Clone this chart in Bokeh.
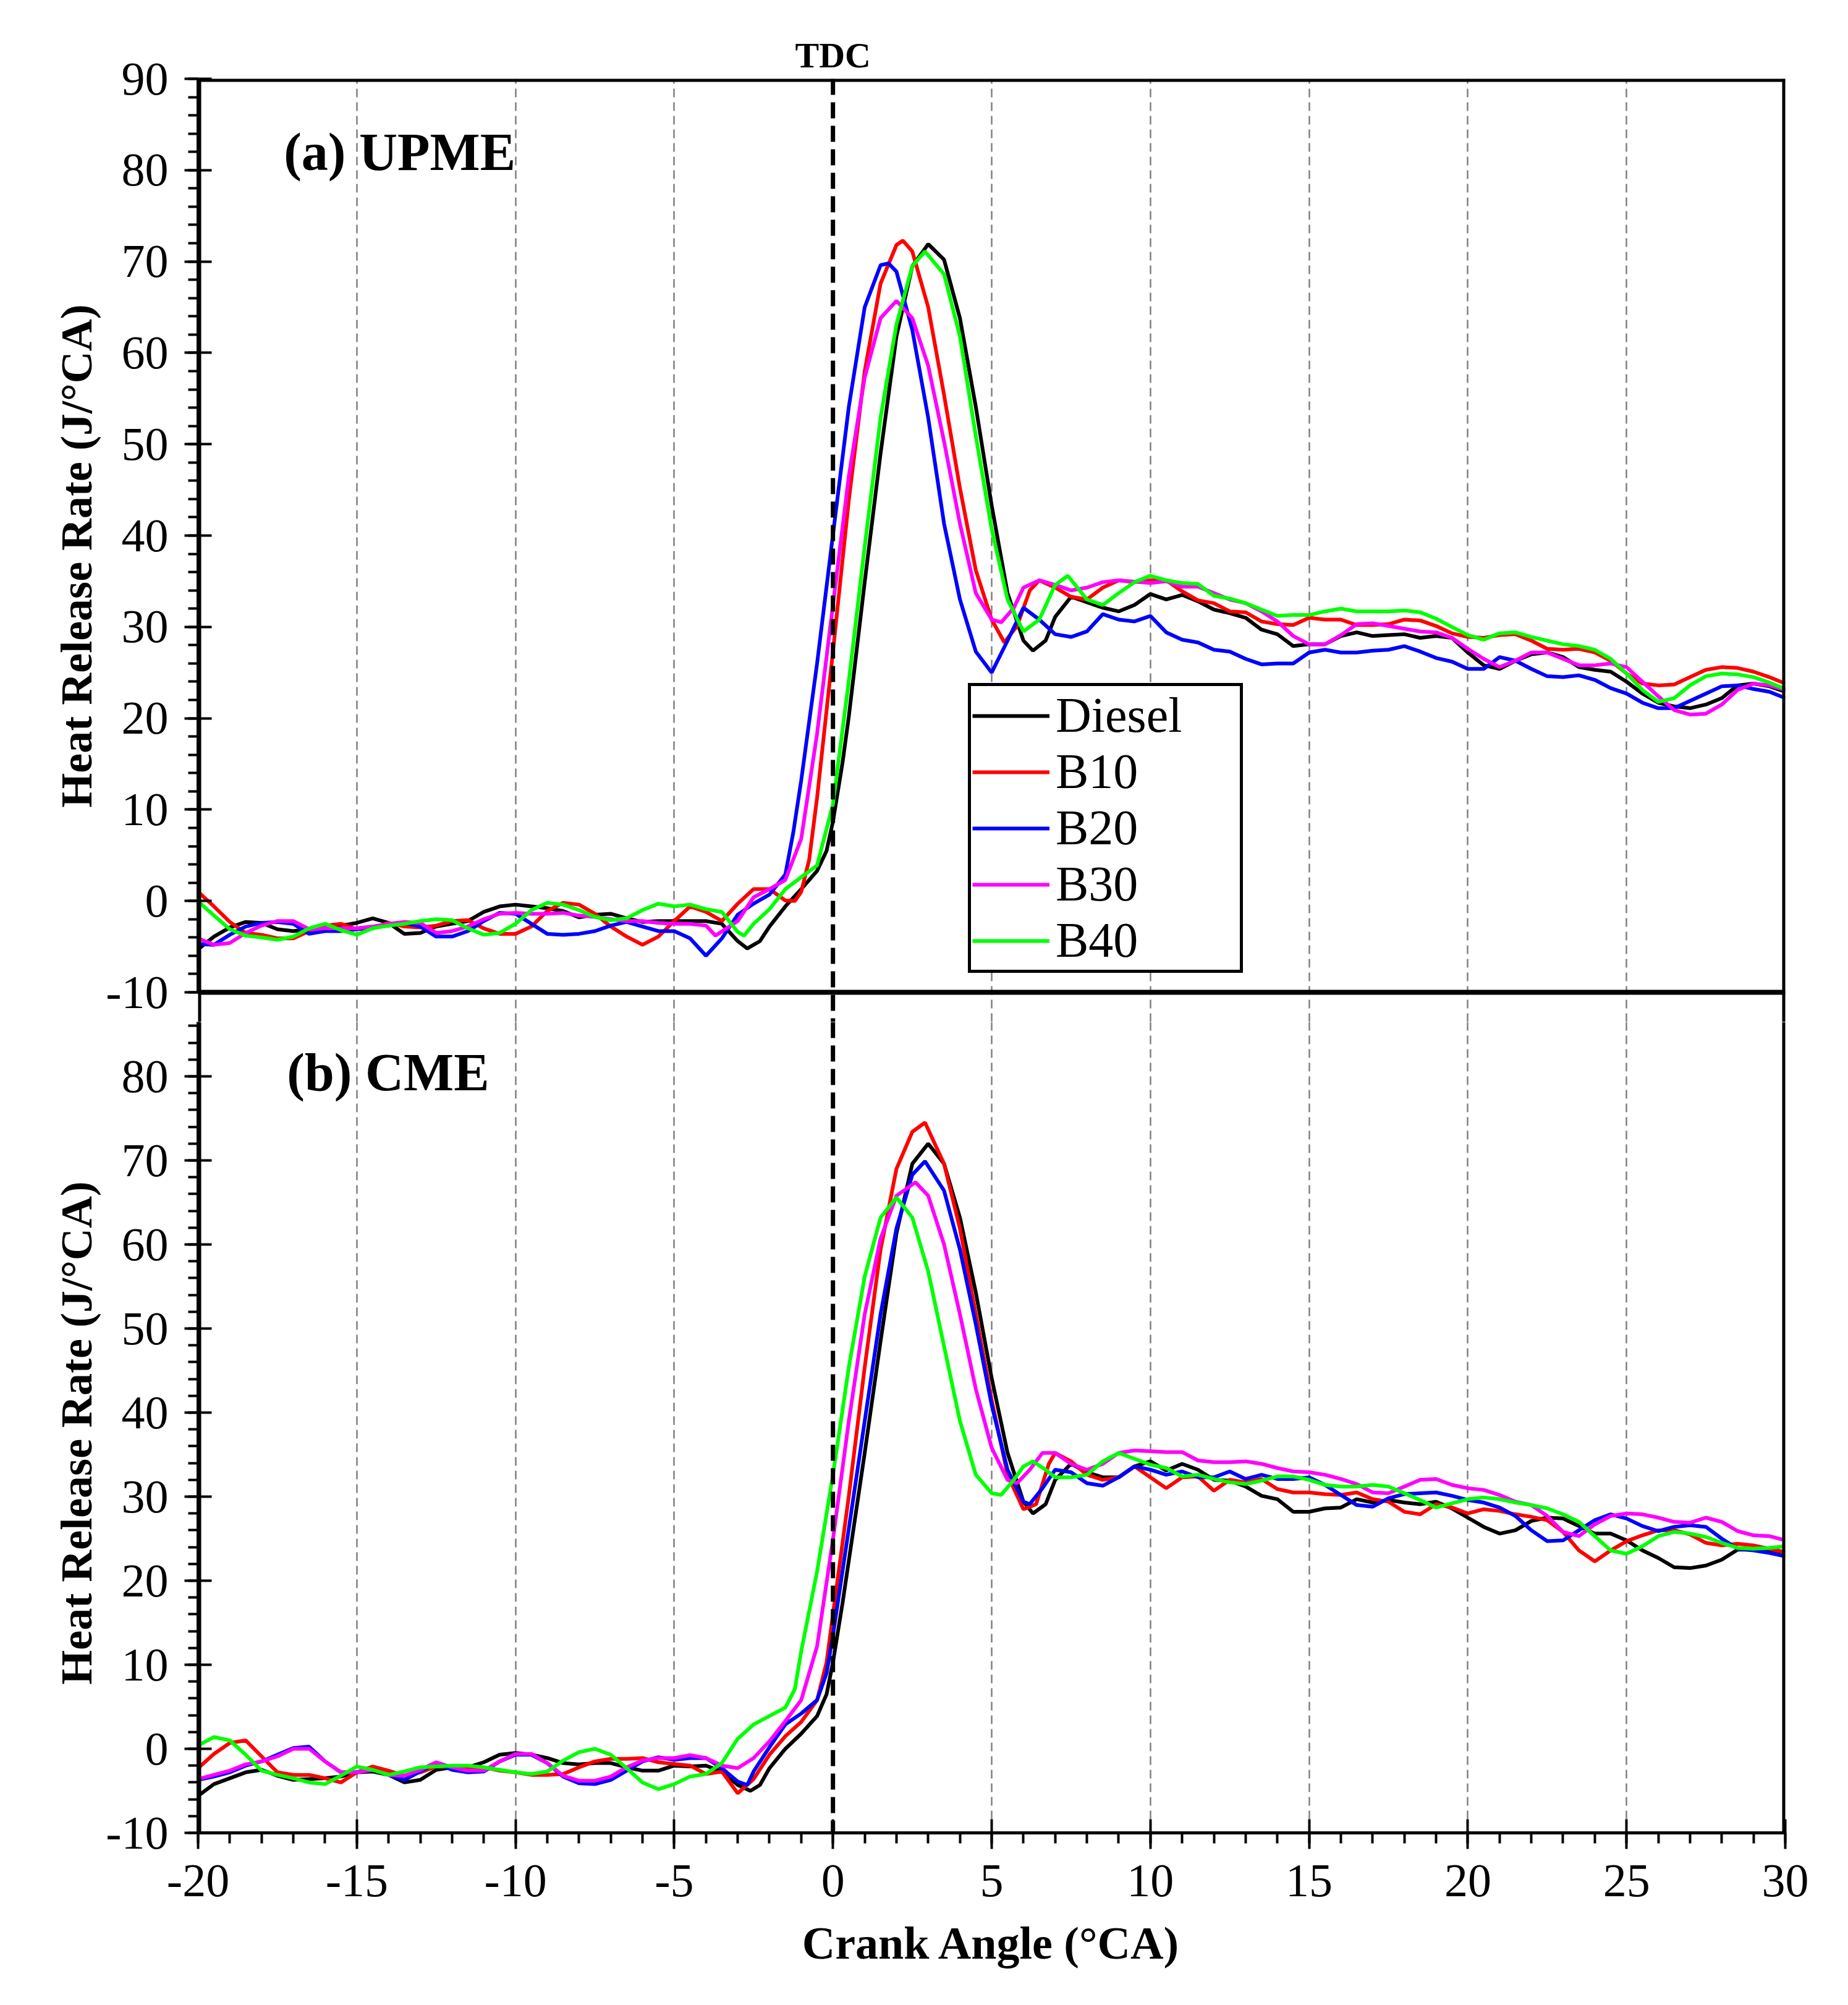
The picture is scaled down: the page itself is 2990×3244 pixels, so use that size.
from bokeh.plotting import figure
from bokeh.models import (Range1d, FixedTicker, Legend, LegendItem, Label, Span, Grid,
                          LinearAxis, CustomJSTickFormatter)
from bokeh.layouts import column
from bokeh.embed import file_html
from bokeh.resources import INLINE

FONT = "Liberation Serif"

# ---------------- shared x positions ----------------
x_low = [-20, -19.5, -19, -18.5, -18, -17.5, -17, -16.5, -16, -15.5, -15, -14.5, -14, -13.5, -13,
         -12.5, -12, -11.5, -11, -10.5, -10, -9.5, -9, -8.5, -8, -7.5, -7, -6.5, -6, -5.5, -5]
x_tail = [10.5, 11, 11.5, 12, 12.5, 13, 13.5, 14, 14.5, 15, 15.5, 16, 16.5, 17, 17.5, 18, 18.5, 19, 19.5, 20,
          20.5, 21, 21.5, 22, 22.5, 23, 23.5, 24, 24.5, 25, 25.5, 26, 26.5, 27, 27.5, 28, 28.5, 29, 29.5, 30]

series_names = ["Diesel", "B10", "B20", "B30", "B40"]
series_colors = ["#000000", "#FF0000", "#0000FF", "#FF00FF", "#00FF00"]

# ---------------- (a) UPME ----------------
upme_diesel_low = [-5.3, -3.9, -2.9, -2.3, -2.4, -3.1, -3.3, -3.1, -2.9, -2.7, -2.4, -1.9, -2.4, -3.6, -3.5,
                   -2.8, -2.5, -2.2, -1.2, -0.6, -0.4, -0.6, -0.8, -1.1, -1.8, -1.5, -1.4, -1.9, -2.3, -2.2, -2.2]
upme_diesel_xmid = [-4.5, -4, -3.5, -3, -2.7, -2.3, -2, -1.5, -1, -0.5, -0.2, 0, 0.3, 0.5, 1, 1.5, 2, 2.5, 3, 3.5,
                    4, 4.5, 5, 5.5, 6, 6.3, 6.7, 7, 7.5, 8, 8.5, 9, 9.5, 10]
upme_diesel_mid = [-2.2, -2.2, -2.5, -4.4, -5.2, -4.4, -2.8, -0.6, 1.3, 3.3, 5.5, 8.7, 15.1, 20.2, 34.9, 49.0, 61.8,
                   69.5, 71.9, 70.2, 63.8, 54.1, 43.3, 33.7, 28.5, 27.4, 28.5, 31.1, 33.3, 32.7, 32.1, 31.7, 32.4, 33.6]
upme_diesel_tail = [33.0, 33.5, 32.8, 31.9, 31.5, 31.0, 29.7, 29.2, 27.9, 28.1, 28.1, 29.0, 29.4, 29.0, 29.1, 29.2,
                    28.8, 29.0, 28.8, 27.2, 25.8, 25.4, 26.3, 27.0, 27.2, 26.7, 25.6, 25.3, 25.1, 24.0, 22.7, 21.7,
                    21.3, 21.1, 21.5, 22.2, 23.6, 23.8, 23.5, 22.9]

upme_b10_low = [1.0, -0.6, -2.3, -3.5, -3.7, -4.1, -4.1, -3.3, -2.7, -2.5, -3.1, -3.0, -2.4, -2.8, -2.9,
                -2.7, -2.2, -2.1, -3.0, -3.6, -3.6, -2.8, -1.1, -0.2, -0.4, -1.4, -2.8, -3.9, -4.8, -3.9, -2.2]
upme_b10_xmid = [-4.5, -4, -3.5, -3, -2.5, -2, -1.5, -1.2, -1, -0.75, -0.5, 0, 0.5, 1, 1.5, 2, 2.2, 2.5, 3, 3.5, 4,
                 4.5, 5, 5.4, 5.8, 6.2, 6.5, 7, 7.5, 8, 8.5, 9, 9.5, 10]
upme_b10_mid = [-0.6, -1.2, -2.2, -0.3, 1.3, 1.3, 0.05, 0.0, 1.0, 4.5, 11.3, 27.3, 43.9, 58.0, 67.6, 71.8, 72.3,
                71.1, 65.0, 55.4, 45.2, 36.2, 30.8, 28.3, 30.1, 34.0, 35.1, 34.3, 33.3, 33.0, 34.3, 35.1, 34.9, 35.1]
upme_b10_tail = [35.1, 33.9, 32.9, 32.6, 31.7, 31.6, 30.6, 30.3, 30.2, 31.0, 30.8, 30.8, 30.2, 30.2, 30.3, 30.8,
                 30.7, 30.1, 29.3, 28.9, 28.8, 29.1, 29.2, 28.5, 27.6, 27.5, 27.6, 27.2, 26.3, 24.9, 23.8, 23.6,
                 23.7, 24.5, 25.3, 25.6, 25.5, 25.1, 24.5, 23.8]

upme_b20_low = [-4.7, -4.8, -3.7, -2.8, -2.4, -2.3, -2.5, -3.6, -3.3, -3.3, -3.1, -2.9, -2.7, -2.4, -2.8,
                -3.9, -3.9, -3.3, -2.2, -1.3, -1.4, -2.5, -3.6, -3.7, -3.6, -3.3, -2.7, -2.3, -2.8, -3.3, -3.3]
upme_b20_xmid = [-4.5, -4, -3.5, -3, -2.5, -2, -1.5, -1.25, -1, -0.5, 0, 0.5, 1, 1.5, 1.75, 2, 2.5, 3, 3.5, 4, 4.5,
                 5, 5.5, 6, 6.5, 7, 7.5, 8, 8.5, 9, 9.5, 10]
upme_b20_mid = [-4.1, -6.0, -4.1, -1.5, -0.3, 0.7, 2.9, 7.5, 13.2, 26.0, 40.1, 54.1, 65.0, 69.6, 69.8, 68.9, 62.5,
                52.9, 41.3, 33.0, 27.3, 25.0, 28.5, 32.1, 30.8, 29.2, 28.9, 29.5, 31.4, 30.8, 30.6, 31.2]
upme_b20_tail = [29.4, 28.6, 28.3, 27.5, 27.3, 26.5, 25.9, 26.0, 26.0, 27.2, 27.5, 27.2, 27.2, 27.4, 27.5, 27.9,
                 27.3, 26.6, 26.2, 25.4, 25.4, 26.7, 26.3, 25.4, 24.6, 24.5, 24.7, 24.2, 23.3, 22.7, 21.7, 21.1,
                 21.1, 21.9, 22.7, 23.5, 23.6, 23.2, 22.9, 22.2]

upme_b30_low = [-4.1, -4.8, -4.6, -3.5, -2.7, -2.2, -2.2, -3.1, -3.0, -3.0, -3.0, -2.8, -2.5, -2.3, -2.4,
                -3.5, -3.3, -2.8, -2.0, -1.4, -1.3, -1.4, -1.4, -1.3, -1.6, -1.75, -2.0, -2.2, -2.2, -2.4, -2.5]
upme_b30_xmid = [-4.5, -4, -3.7, -3, -2.5, -2, -1.5, -1, -0.5, 0, 0.5, 1, 1.5, 2, 2.5, 3, 3.5, 4, 4.5, 5, 5.3,
                 5.7, 6, 6.5, 7, 7.5, 8, 8.5, 9, 10]
upme_b30_mid = [-2.5, -2.7, -3.8, -2.2, 0.4, 1.3, 2.3, 6.8, 18.3, 32.4, 46.5, 57.3, 63.8, 65.7, 63.8, 58.6, 50.3,
                41.3, 33.7, 30.8, 30.5, 32.1, 34.3, 35.1, 34.6, 34.0, 34.3, 34.9, 35.1, 34.8]
upme_b30_tail = [35.0, 34.4, 34.4, 33.7, 33.0, 32.6, 31.7, 30.6, 29.0, 28.1, 28.1, 29.1, 30.3, 30.4, 30.1, 29.8,
                 29.5, 29.4, 28.8, 27.6, 26.5, 25.6, 26.3, 27.2, 27.2, 26.5, 25.8, 25.8, 26.0, 25.6, 24.0, 22.4,
                 20.9, 20.4, 20.5, 21.5, 23.1, 23.8, 23.6, 23.1]

upme_b40_low = [-0.05, -1.6, -3.1, -3.8, -4.0, -4.25, -3.9, -3.0, -2.5, -3.2, -3.7, -3.0, -2.7, -2.5, -2.2,
                -2.0, -2.1, -3.0, -3.7, -3.5, -2.5, -1.0, -0.2, -0.4, -1.0, -1.75, -2.1, -1.9, -1.0, -0.3, -0.6]
upme_b40_xmid = [-4.5, -4, -3.5, -3, -2.8, -2.5, -2, -1.5, -1, -0.5, 0, 0.5, 1, 1.5, 2, 2.5, 2.9, 3.5, 4, 4.5, 5,
                 5.5, 6, 6.5, 7, 7.4, 8, 8.5, 9, 9.5, 10]
upme_b40_mid = [-0.4, -0.9, -1.2, -3.4, -3.8, -2.5, -0.9, 1.3, 2.6, 3.9, 10.6, 24.1, 38.8, 52.9, 63.1, 69.5, 71.1,
                68.6, 61.8, 50.9, 40.7, 33.0, 29.5, 30.8, 34.6, 35.6, 33.0, 32.4, 33.7, 34.9, 35.6]
upme_b40_tail = [35.1, 34.8, 34.7, 33.4, 33.1, 32.6, 31.9, 31.2, 31.3, 31.3, 31.7, 32.0, 31.7, 31.7, 31.7, 31.8,
                 31.6, 30.9, 30.0, 29.1, 28.6, 29.3, 29.4, 28.9, 28.5, 28.1, 27.9, 27.5, 26.5, 24.9, 23.1, 21.8,
                 22.2, 23.6, 24.6, 24.9, 24.8, 24.5, 23.9, 23.2]

# ---------------- (b) CME ----------------
cme_diesel_low = [-5.6, -4.2, -3.5, -2.8, -2.5, -3.2, -3.7, -3.6, -3.5, -3.3, -2.8, -2.7, -3.1, -4.0, -3.7,
                  -2.5, -2.2, -2.2, -1.6, -0.7, -0.5, -0.7, -1.1, -1.7, -1.85, -1.7, -1.7, -2.2, -2.6, -2.6, -2.0]
cme_diesel_xmid = [-4.5, -4, -3.5, -3, -2.6, -2.3, -2, -1.5, -1, -0.5, -0.2, 0, 0.3, 0.5, 1, 1.5, 2, 2.5, 3, 3.5,
                   4, 4.5, 5, 5.5, 6, 6.3, 6.7, 7, 7.5, 8, 8.5, 9, 9.5, 10]
cme_diesel_mid = [-2.1, -2.0, -2.7, -4.3, -5.0, -4.3, -2.3, 0.0, 1.8, 3.9, 6.5, 10.3, 17.3, 22.4, 35.2, 48.5, 61.3,
                  69.6, 72.0, 69.6, 63.2, 54.3, 44.1, 35.2, 29.4, 28.0, 29.1, 32.0, 33.9, 32.9, 32.3, 32.3, 33.6, 34.2]
cme_diesel_tail = [33.1, 33.9, 33.2, 32.0, 31.9, 31.2, 30.1, 29.7, 28.2, 28.2, 28.6, 28.7, 29.7, 29.3, 29.6, 29.3,
                   29.1, 29.4, 28.6, 27.5, 26.4, 25.6, 26.0, 27.1, 27.5, 27.4, 26.5, 25.6, 25.6, 24.8, 23.6, 22.7,
                   21.6, 21.5, 21.8, 22.5, 23.7, 23.7, 23.6, 23.4]

cme_b10_low = [-2.3, -0.6, 0.7, 1.0, -0.9, -2.8, -3.1, -3.1, -3.5, -4.0, -2.8, -2.1, -2.6, -3.2, -2.8,
               -2.1, -2.2, -2.3, -2.2, -2.6, -2.8, -3.1, -3.1, -3.0, -2.2, -1.5, -1.2, -1.2, -1.1, -1.6, -1.8]
cme_b10_xmid = [-4.5, -4, -3.5, -3, -2.5, -2, -1.5, -1, -0.5, -0.2, 0, 0.5, 1, 1.5, 2, 2.5, 2.9, 3.5, 4, 4.5, 5,
                5.5, 6, 6.4, 6.8, 7, 7.5, 8, 8.5, 9, 9.5, 10]
cme_b10_mid = [-2.0, -3.0, -2.7, -5.3, -3.6, -0.7, 1.5, 3.2, 5.8, 10.3, 16.0, 30.1, 45.4, 59.4, 69.0, 73.4, 74.5,
               69.6, 61.9, 51.7, 41.5, 32.6, 28.5, 29.1, 33.9, 35.2, 34.2, 32.6, 32.0, 32.3, 33.6, 32.3]
cme_b10_tail = [31.0, 32.3, 32.4, 30.7, 32.0, 31.7, 32.1, 30.9, 30.5, 30.5, 30.3, 30.2, 30.5, 29.7, 29.4, 28.2,
                27.9, 29.1, 28.7, 28.0, 28.5, 28.3, 27.9, 27.6, 27.2, 25.8, 23.6, 22.3, 23.6, 24.7, 25.4, 26.0,
                26.0, 25.5, 24.5, 24.2, 24.4, 24.2, 23.8, 23.4]

cme_b20_low = [-3.7, -3.3, -2.8, -2.0, -1.5, -0.7, 0.1, 0.25, -1.5, -2.8, -2.8, -2.5, -3.1, -3.7, -2.7,
               -1.7, -2.5, -2.8, -2.7, -1.5, -0.7, -0.7, -1.7, -3.3, -4.1, -4.2, -3.7, -2.6, -1.5, -1.0, -1.3]
cme_b20_xmid = [-4.5, -4, -3.5, -3, -2.7, -2.5, -2, -1.5, -1, -0.5, -0.2, 0, 0.5, 1, 1.5, 2, 2.5, 2.9, 3.5, 4,
                4.5, 5, 5.5, 6, 6.2, 6.6, 7, 7.5, 8, 8.5, 9, 9.5, 10]
cme_b20_mid = [-1.1, -1.1, -2.3, -3.9, -4.3, -2.7, 0.2, 2.9, 4.2, 5.8, 9.0, 13.5, 26.2, 39.0, 51.7, 61.9, 68.3,
               69.9, 66.4, 59.4, 50.5, 40.9, 33.2, 29.4, 29.1, 31.0, 33.2, 32.9, 31.6, 31.3, 32.3, 33.6, 33.2]
cme_b20_tail = [32.6, 33.0, 32.3, 32.3, 33.0, 32.1, 32.6, 32.1, 32.1, 32.3, 31.4, 30.2, 29.0, 28.8, 29.8, 30.3,
                30.4, 30.5, 30.1, 29.6, 29.3, 28.7, 27.7, 26.0, 24.7, 24.8, 26.0, 27.2, 27.9, 27.4, 26.5, 25.9,
                26.4, 26.6, 26.4, 25.0, 23.8, 23.6, 23.3, 22.9]

cme_b30_low = [-3.6, -3.1, -2.6, -1.85, -1.5, -0.9, 0.0, 0.0, -1.5, -2.8, -2.8, -2.5, -3.1, -3.2, -2.5,
               -1.6, -2.2, -2.6, -2.6, -1.5, -0.6, -0.6, -1.7, -3.2, -3.8, -3.8, -3.3, -2.2, -1.4, -1.1, -1.1]
cme_b30_xmid = [-4.5, -4, -3.5, -3, -2.5, -2, -1.5, -1, -0.5, 0, 0.5, 1, 1.5, 2, 2.6, 3, 3.5, 4, 4.5, 5, 5.5,
                5.8, 6.2, 6.6, 7, 7.5, 8, 8.5, 9, 9.5, 10]
cme_b30_mid = [-0.75, -1.1, -2.0, -2.3, -1.1, 0.9, 3.3, 5.8, 12.2, 24.9, 39.0, 51.7, 60.7, 65.8, 67.4, 65.8, 60.0,
               51.7, 42.8, 35.8, 32.0, 31.6, 33.2, 35.2, 35.2, 33.9, 33.2, 33.9, 35.2, 35.5, 35.4]
cme_b30_tail = [35.3, 35.3, 34.3, 34.1, 34.1, 34.2, 33.9, 33.4, 33.0, 32.9, 32.6, 32.1, 31.5, 30.5, 30.4, 31.2,
                32.0, 32.1, 31.4, 31.0, 30.8, 30.2, 29.4, 29.0, 27.7, 25.8, 25.3, 26.7, 27.7, 28.0, 27.9, 27.5,
                27.0, 26.9, 27.5, 27.0, 25.9, 25.4, 25.3, 24.8]

cme_b40_low = [0.4, 1.4, 1.0, -0.7, -2.6, -3.1, -3.5, -4.0, -4.2, -3.2, -2.1, -2.5, -3.1, -2.7, -2.2,
               -2.1, -2.0, -2.0, -2.2, -2.5, -2.8, -3.0, -2.7, -1.4, -0.4, 0.0, -0.7, -2.3, -4.0, -4.8, -4.2]
cme_b40_xmid = [-4.5, -4, -3.5, -3, -2.5, -2, -1.5, -1.2, -1, -0.5, 0, 0.5, 1, 1.5, 2, 2.5, 3, 3.5, 4, 4.5, 5,
                5.3, 5.7, 6, 6.3, 6.7, 7, 7.5, 8, 8.5, 9, 9.5, 10]
cme_b40_mid = [-3.3, -3.0, -1.7, 1.2, 2.9, 3.9, 4.9, 7.1, 11.6, 21.1, 32.6, 45.4, 56.2, 63.2, 65.6, 63.2, 56.8,
               47.9, 39.0, 32.6, 30.4, 30.2, 32.0, 33.6, 34.2, 33.2, 32.3, 32.3, 32.6, 34.2, 35.2, 34.5, 33.8]
cme_b40_tail = [33.4, 32.4, 32.6, 32.1, 31.7, 31.5, 31.9, 32.4, 32.4, 32.0, 31.4, 31.2, 31.2, 31.4, 31.2, 30.4,
                29.6, 28.7, 29.2, 29.7, 29.9, 29.7, 29.3, 29.0, 28.6, 27.9, 27.0, 25.3, 23.6, 23.2, 24.1, 25.3,
                25.8, 25.6, 25.2, 24.5, 23.9, 23.8, 23.9, 24.1]

x_ticks = [-20, -15, -10, -5, 0, 5, 10, 15, 20, 25, 30]
x_minor = list(range(-20, 31))
grid_x = [-15, -10, -5, 5, 10, 15, 20, 25]
y_ticks_top = [-10, 0, 10, 20, 30, 40, 50, 60, 70, 80, 90]
y_ticks_bottom = [-10, 0, 10, 20, 30, 40, 50, 60, 70, 80]
y_minor = list(range(-10, 91, 2))

upme = [
    (upme_diesel_xmid, upme_diesel_low, upme_diesel_mid, upme_diesel_tail),
    (upme_b10_xmid, upme_b10_low, upme_b10_mid, upme_b10_tail),
    (upme_b20_xmid, upme_b20_low, upme_b20_mid, upme_b20_tail),
    (upme_b30_xmid, upme_b30_low, upme_b30_mid, upme_b30_tail),
    (upme_b40_xmid, upme_b40_low, upme_b40_mid, upme_b40_tail),
]
cme = [
    (cme_diesel_xmid, cme_diesel_low, cme_diesel_mid, cme_diesel_tail),
    (cme_b10_xmid, cme_b10_low, cme_b10_mid, cme_b10_tail),
    (cme_b20_xmid, cme_b20_low, cme_b20_mid, cme_b20_tail),
    (cme_b30_xmid, cme_b30_low, cme_b30_mid, cme_b30_tail),
    (cme_b40_xmid, cme_b40_low, cme_b40_mid, cme_b40_tail),
]

# ---------------- layout geometry (pixels) ----------------
W = 2974
LEFT = 320
RIGHT = 86
TOP_BORDER = 127
BOTTOM_BORDER = 263
TOP_PANEL_H = 1478      # frame height of panel (a) for y -10..90
BOT_PANEL_H = 1360      # frame height of panel (b) for y -10..90
SLIVER = 48             # part of panel (b) drawn by the upper figure (room for the shared "-10" label)
top_scale = TOP_PANEL_H / 100.0
bot_scale = BOT_PANEL_H / 100.0

Y_LABEL = "Heat  Release Rate (J/\u00b0CA)"
INT_FMT = "return tick.toFixed(0);"


def style_yaxis(ax, ticks, bounds):
    ax.ticker = FixedTicker(ticks=ticks, minor_ticks=y_minor)
    ax.formatter = CustomJSTickFormatter(code=INT_FMT)
    ax.bounds = bounds
    ax.axis_label = Y_LABEL
    ax.axis_label_text_font = FONT
    ax.axis_label_text_font_style = "bold"
    ax.axis_label_text_font_size = "72px"
    ax.axis_label_text_color = "black"
    ax.axis_label_standoff = 4
    ax.major_label_text_font = FONT
    ax.major_label_text_font_size = "76px"
    ax.major_label_text_color = "black"
    ax.major_label_standoff = 26
    ax.axis_line_width = 5
    ax.axis_line_color = "black"
    ax.major_tick_line_width = 4
    ax.minor_tick_line_width = 4
    ax.major_tick_in = 22
    ax.major_tick_out = 22
    ax.minor_tick_in = 0
    ax.minor_tick_out = 16


def frame_edge(p, loc, dim):
    p.add_layout(Span(location=loc, dimension=dim, line_color="black", line_width=10))


def base_fig(height, y_range, top, bottom, x_axis):
    p = figure(width=W, height=height, x_range=Range1d(-20, 30), y_range=y_range,
               output_backend="svg", toolbar_location=None, x_axis_location=x_axis,
               min_border_left=LEFT, min_border_right=RIGHT, min_border_top=top, min_border_bottom=bottom)
    p.background_fill_color = "white"
    p.border_fill_color = "white"
    p.outline_line_color = None
    p.grid.visible = False
    p.add_layout(Grid(dimension=0, ticker=FixedTicker(ticks=grid_x), grid_line_color="#808080",
                      grid_line_width=2.5, grid_line_dash="14 8"))
    frame_edge(p, -20, "height")
    frame_edge(p, 30, "height")
    return p


def add_curves(p, data):
    rends = []
    for (xmid, ylow, ymid, ytail), col in zip(data, series_colors):
        xs = x_low + xmid + x_tail
        ys = ylow + ymid + ytail
        rends.append(p.line(xs, ys, line_color=col, line_width=6))
    p.add_layout(Span(location=0, dimension="height", line_color="black", line_width=7,
                      line_dash="26 12"))
    return rends


# ---------- top panel (a) ----------
p1_ymin = -10 - SLIVER / top_scale
p1 = base_fig(TOP_BORDER + TOP_PANEL_H + SLIVER, Range1d(p1_ymin, 90), TOP_BORDER, 0, None)
frame_edge(p1, 90, "width")
style_yaxis(p1.yaxis[0], y_ticks_top, (-10, 90))
r1 = add_curves(p1, upme)
p1.add_layout(Span(location=-10, dimension="width", line_color="black", line_width=8))
p1.add_layout(Label(x=-17.3, y=82, text="(a) UPME", text_font=FONT, text_font_style="bold",
                    text_font_size="86px", text_baseline="middle", text_color="black"))

# "TDC" marker above the frame, centred on crank angle 0
tdc_axis = LinearAxis(ticker=FixedTicker(ticks=[0]), formatter=CustomJSTickFormatter(code="return 'TDC';"))
tdc_axis.axis_line_alpha = 0
tdc_axis.major_tick_in = 0
tdc_axis.major_tick_out = 0
tdc_axis.minor_tick_in = 0
tdc_axis.minor_tick_out = 0
tdc_axis.major_label_standoff = 6
tdc_axis.major_label_text_font = FONT
tdc_axis.major_label_text_font_style = "bold"
tdc_axis.major_label_text_font_size = "58px"
tdc_axis.major_label_text_color = "black"
p1.add_layout(tdc_axis, "above")

legend = Legend(items=[LegendItem(label=n, renderers=[r]) for n, r in zip(series_names, r1)],
                location=(1246, 31 + SLIVER))
legend.border_line_color = "black"
legend.border_line_width = 5
legend.border_line_alpha = 1.0
legend.background_fill_color = "white"
legend.background_fill_alpha = 1.0
legend.label_text_font = FONT
legend.label_text_font_size = "80px"
legend.label_text_color = "black"
legend.glyph_width = 125
legend.glyph_height = 82
legend.label_height = 82
legend.label_width = 296
legend.label_standoff = 10
legend.spacing = 0
legend.padding = 2
legend.margin = 0
p1.add_layout(legend)

# ---------- bottom panel (b) ----------
p2_ymax = 90 - SLIVER / bot_scale
p2 = base_fig(BOT_PANEL_H - SLIVER + BOTTOM_BORDER, Range1d(-10, p2_ymax), 0, BOTTOM_BORDER, "below")
style_yaxis(p2.yaxis[0], y_ticks_bottom, (-10, p2_ymax))
add_curves(p2, cme)
p2.add_layout(Label(x=-17.2, y=80.5, text="(b) CME", text_font=FONT, text_font_style="bold",
                    text_font_size="86px", text_baseline="middle", text_color="black"))
xa = p2.xaxis[0]
xa.ticker = FixedTicker(ticks=x_ticks, minor_ticks=x_minor)
xa.formatter = CustomJSTickFormatter(code=INT_FMT)
xa.axis_label = "Crank Angle (\u00b0CA)"
xa.axis_label_text_font = FONT
xa.axis_label_text_font_style = "bold"
xa.axis_label_text_font_size = "74px"
xa.axis_label_text_color = "black"
xa.axis_label_standoff = 32
xa.major_label_text_font = FONT
xa.major_label_text_font_size = "76px"
xa.major_label_text_color = "black"
xa.major_label_standoff = 26
xa.axis_line_width = 5
xa.axis_line_color = "black"
xa.major_tick_line_width = 4
xa.minor_tick_line_width = 4
xa.major_tick_in = 22
xa.major_tick_out = 26
xa.minor_tick_in = 0
xa.minor_tick_out = 17

layout = column(p1, p2, spacing=0)
open("out.html", "w").write(file_html(layout, INLINE))
